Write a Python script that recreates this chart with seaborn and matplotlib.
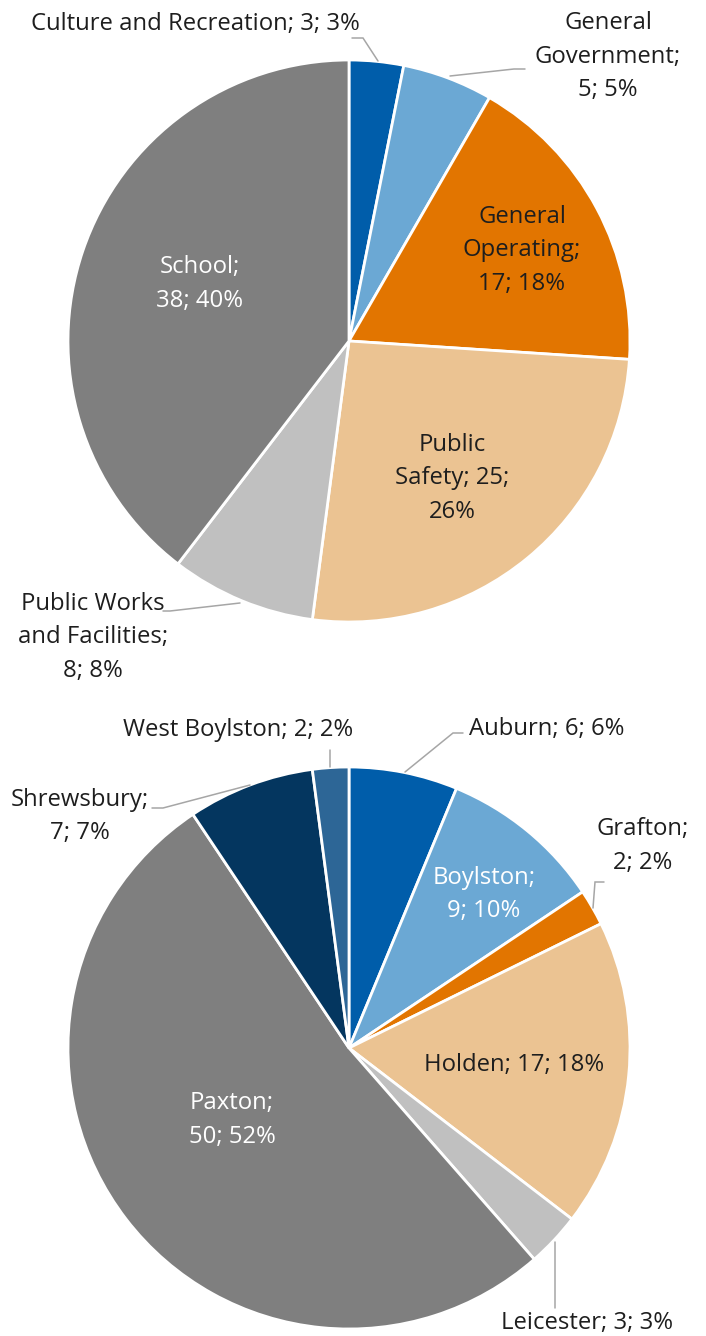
import matplotlib
matplotlib.use("Agg")
import matplotlib.pyplot as plt
import seaborn as sns

# ---------------- data ----------------
dept_names = ["Culture and Recreation", "General Government", "General Operating",
              "Public Safety", "Public Works and Facilities", "School"]
dept_values = [3, 5, 17, 25, 8, 38]
dept_pcts = ["3%", "5%", "18%", "26%", "8%", "40%"]
dept_colors = ["#005DAA", "#6BA8D4", "#E27500", "#EBC392", "#C0C0C0", "#7F7F7F"]

town_names = ["Auburn", "Boylston", "Grafton", "Holden", "Leicester", "Paxton",
              "Shrewsbury", "West Boylston"]
town_values = [6, 9, 2, 17, 3, 50, 7, 2]
town_pcts = ["6%", "10%", "2%", "18%", "3%", "52%", "7%", "2%"]
town_colors = ["#005DAA", "#6BA8D4", "#E27500", "#EBC392", "#C0C0C0", "#7F7F7F",
               "#04365F", "#2D6696"]

# ---------------- style ----------------
sns.set_theme(style="white")
plt.rcParams["font.family"] = ["Open Sans", "DejaVu Sans"]

W, H = 706, 1336
FS = 17.2
LINE = 33.5
TXT = "#1E1E1E"
LEAD = "#A6A6A6"

fig = plt.figure(figsize=(W / 100, H / 100), dpi=100)
ax = fig.add_axes([0, 0, 1, 1])


def Y(y):
    return H - y


def draw_pie(values, colors, cx, cy, r):
    ax.pie(values, colors=colors, startangle=90, counterclock=False,
           center=(cx, Y(cy)), radius=r,
           wedgeprops=dict(edgecolor="white", linewidth=2.0))


def label(name, value, pct, breaks, x, y0, color=TXT):
    words = f"{name}; {value}; {pct}".split(" ")
    lines, cur = [], []
    for i, w in enumerate(words):
        cur.append(w)
        if i in breaks:
            lines.append(" ".join(cur))
            cur = []
    if cur:
        lines.append(" ".join(cur))
    for k, ln in enumerate(lines):
        ax.text(x, Y(y0 + k * LINE), ln, ha="center", va="baseline",
                fontsize=FS, color=color)


def leader(pts):
    ax.plot([p[0] for p in pts], [Y(p[1]) for p in pts], color=LEAD, lw=1.1,
            solid_joinstyle="miter")


# ---------------- top pie ----------------
draw_pie(dept_values, dept_colors, 349, 341, 281)
top_layout = [
    ([], 195, 30, TXT),
    ([0, 1], 608, 29, TXT),
    ([0, 1], 522, 223, TXT),
    ([0, 2], 452, 451, TXT),
    ([1, 3], 93, 610, TXT),
    ([0], 200, 273, "white"),
]
for (n, v, p), (br, x, y0, c) in zip(zip(dept_names, dept_values, dept_pcts), top_layout):
    label(n, v, p, br, x, y0, c)
leader([(352, 38), (363, 38), (378, 61)])
leader([(450, 76), (514, 69), (525, 69)])
leader([(163, 611), (170, 611), (240, 603)])

# ---------------- bottom pie ----------------
draw_pie(town_values, town_colors, 349, 1048, 281)
bot_layout = [
    ([], 547, 735, TXT),
    ([0], 484, 884, "white"),
    ([0], 643, 835, TXT),
    ([], 514, 1071, TXT),
    ([], 587, 1329, TXT),
    ([0], 232, 1109, "white"),
    ([0], 80, 806, TXT),
    ([], 238, 736, TXT),
]
for (n, v, p), (br, x, y0, c) in zip(zip(town_names, town_values, town_pcts), bot_layout):
    label(n, v, p, br, x, y0, c)
leader([(405, 772), (453, 733), (463, 733)])
leader([(604, 882), (595, 882), (593, 908)])
leader([(555, 1242), (555, 1308)])
leader([(152, 808), (163, 808), (250, 785)])
leader([(330, 750), (330, 767)])

ax.set_xlim(0, W)
ax.set_ylim(0, H)
ax.set_aspect("equal")
ax.axis("off")

fig.savefig("out.png", dpi=100, facecolor="white")
